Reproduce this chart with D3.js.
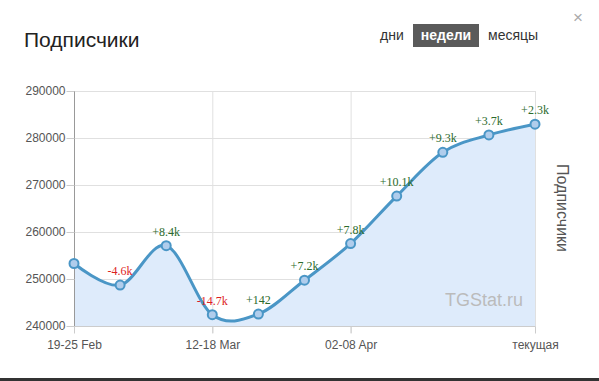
<!DOCTYPE html>
<html><head><meta charset="utf-8">
<script src="https://cdn.jsdelivr.net/npm/d3@7"></script>
<style>
html,body{margin:0;padding:0;background:#fff;}
svg{display:block;font-family:"Liberation Sans",Arial,sans-serif;}
</style></head>
<body>
<svg id="chart" width="599" height="381"></svg>
<script>
const weeks = ["19-25 Feb","26 Feb-04 Mar","05-11 Mar","12-18 Mar","19-25 Mar","26 Mar-01 Apr","02-08 Apr","09-15 Apr","16-22 Apr","23-29 Apr","текущая"];
const subscribers = [253300, 248700, 257100, 242400, 242542, 249742, 257542, 267642, 276942, 280642, 282942];
const deltas = ["", "-4.6k", "+8.4k", "-14.7k", "+142", "+7.2k", "+7.8k", "+10.1k", "+9.3k", "+3.7k", "+2.3k"];
const xTickLabels = ["19-25 Feb", "12-18 Mar", "02-08 Apr", "текущая"];
const xTickIdx = [0, 3, 6, 10];
const yTicks = [240000, 250000, 260000, 270000, 280000, 290000];

const svg = d3.select("#chart");
const L = 74, R = 535, T = 91, B = 326;
const x = d3.scalePoint().domain(d3.range(weeks.length)).range([L, R]);
const y = d3.scaleLinear().domain([240000, 290000]).range([B, T]);

// title
svg.append("text").attr("x", 24).attr("y", 47).attr("font-size", 21).attr("fill", "#222").text("Подписчики");
// buttons
svg.append("text").attr("x", 380).attr("y", 40).attr("font-size", 14).attr("fill", "#333").text("дни");
svg.append("rect").attr("x", 413).attr("y", 24).attr("width", 66).attr("height", 23).attr("fill", "#5a5a5a");
svg.append("text").attr("x", 446).attr("y", 40).attr("text-anchor", "middle").attr("font-size", 14).attr("font-weight", "bold").attr("fill", "#fff").text("недели");
svg.append("text").attr("x", 488).attr("y", 40).attr("font-size", 14).attr("fill", "#333").text("месяцы");
svg.append("text").attr("x", 578).attr("y", 23).attr("text-anchor", "middle").attr("font-size", 17).attr("fill", "#aaa").text("×");

// horizontal grid
svg.append("g").selectAll("line").data(yTicks).join("line")
  .attr("x1", L).attr("x2", R).attr("y1", d => y(d) + 0.5).attr("y2", d => y(d) + 0.5)
  .attr("stroke", "#e0e0e0");
// vertical grid
svg.append("g").selectAll("line").data(xTickIdx).join("line")
  .attr("x1", i => x(i) + 0.5).attr("x2", i => x(i) + 0.5).attr("y1", T).attr("y2", B + 7)
  .attr("stroke", "#e0e0e0");

// area + line
const curve = d3.curveCatmullRom.alpha(0);
const area = d3.area().x((d, i) => x(i)).y0(B).y1(d => y(d)).curve(curve);
const line = d3.line().x((d, i) => x(i)).y(d => y(d)).curve(curve);
svg.append("path").datum(subscribers).attr("d", area).attr("fill", "#deebfb");

// axes
const yAxis = svg.append("g").attr("transform", `translate(${L + 0.5},0)`)
  .call(d3.axisLeft(y).tickValues(yTicks).tickSize(8).tickPadding(1).tickFormat(d3.format("d")));
yAxis.select(".domain").attr("stroke", "#999").attr("d", `M0,${T}V${B}`);
yAxis.selectAll(".tick line").attr("stroke", "#ccc");
yAxis.selectAll(".tick text").attr("font-size", 12).attr("fill", "#555").attr("font-family", "Liberation Sans, Arial, sans-serif");

const xAxis = svg.append("g").attr("transform", `translate(0,${B + 0.5})`)
  .call(d3.axisBottom(x).tickValues(xTickIdx).tickSize(7).tickPadding(7).tickFormat(i => xTickLabels[xTickIdx.indexOf(i)]));
xAxis.select(".domain").attr("stroke", "#ccc").attr("d", `M${L},0H${R}`);
xAxis.selectAll(".tick line").attr("stroke", "#ccc");
xAxis.selectAll(".tick text").attr("font-size", 12).attr("fill", "#555").attr("font-family", "Liberation Sans, Arial, sans-serif");

svg.append("path").datum(subscribers).attr("d", line).attr("fill", "none")
  .attr("stroke", "#4a96c6").attr("stroke-width", 3);

// markers
svg.append("g").selectAll("circle").data(subscribers).join("circle")
  .attr("cx", (d, i) => x(i)).attr("cy", d => y(d)).attr("r", 4.5)
  .attr("fill", "#b0cdec").attr("stroke", "#4a96c6").attr("stroke-width", 2);

// delta labels
svg.append("g").selectAll("text").data(subscribers).join("text")
  .attr("x", (d, i) => x(i)).attr("y", d => y(d) - 10)
  .attr("text-anchor", "middle").attr("font-family", "Liberation Serif, Times New Roman, serif")
  .attr("font-size", 12)
  .attr("fill", (d, i) => deltas[i].startsWith("-") ? "#dd1f1f" : "#2c6b2c")
  .text((d, i) => deltas[i]);

// watermark
svg.append("text").attr("x", 523).attr("y", 306).attr("text-anchor", "end").attr("font-size", 18).attr("fill", "#bbb").text("TGStat.ru");

// right axis title
svg.append("text").attr("transform", "translate(557,208) rotate(90)").attr("text-anchor", "middle")
  .attr("font-size", 16).attr("fill", "#555").text("Подписчики");

// bottom bar
svg.append("rect").attr("x", 0).attr("y", 378).attr("width", 599).attr("height", 3).attr("fill", "#333");
</script>
</body></html>
